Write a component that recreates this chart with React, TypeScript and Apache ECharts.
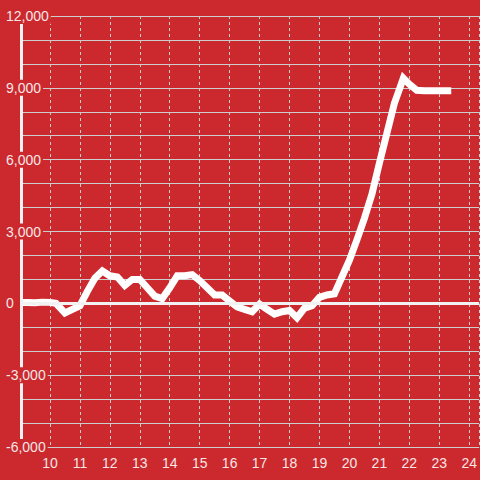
import React, { useEffect, useRef } from "react";
import * as echarts from "echarts";

const hours = [
  9.0, 9.25, 9.5, 9.75, 10.0, 10.2, 10.5, 10.75, 11.0, 11.25, 11.5, 11.75, 12.0, 12.25, 12.5, 12.75,
  13.0, 13.25, 13.5, 13.75, 14.0, 14.25, 14.5, 14.75, 15.0, 15.25, 15.5, 15.75, 16.0, 16.25, 16.5,
  16.75, 17.0, 17.25, 17.5, 17.75, 18.0, 18.25, 18.5, 18.75, 19.0, 19.25, 19.5, 19.75, 20.0, 20.25,
  20.5, 20.75, 21.0, 21.25, 21.5, 21.8, 22.0, 22.25, 22.5, 23.4,
];
const values = [
  30, 30, 20, 50, 40, 0, -400, -250, -100, 500, 1050, 1350, 1150, 1100, 750, 1000,
  1000, 650, 300, 200, 650, 1150, 1150, 1200, 950, 650, 350, 350, 100, -150, -250,
  -350, -30, -250, -450, -350, -300, -600, -200, -100, 250, 350, 400, 1100, 1800, 2650,
  3550, 4550, 5850, 7100, 8350, 9400, 9150, 8900, 8880, 8880,
];
const yTicks = { min: -6000, max: 12000, interval: 3000 };
const xTicks = { min: 9, max: 24 + 1 / 3, interval: 1, firstLabel: 10, lastLabel: 24 };

const BG = "#cc292e";
const TEXT = "#f5e6e6";
const GRID = "#cdcdcd";
const FONT = '"Liberation Sans", Arial, sans-serif';

export default function App() {
  const ref = useRef<HTMLDivElement>(null);
  useEffect(() => {
    if (!ref.current) return;
    const chart = echarts.init(ref.current, undefined, { renderer: "svg" });
    const yBase = {
      type: "value",
      min: yTicks.min,
      max: yTicks.max,
      interval: yTicks.interval,
      position: "left",
      offset: -1,
    };
    chart.setOption({
      animation: false,
      backgroundColor: BG,
      grid: { left: 20, right: 0, top: 16, bottom: 33, containLabel: false },
      xAxis: {
        type: "value",
        min: xTicks.min,
        max: xTicks.max,
        interval: xTicks.interval,
        axisLine: { show: false, onZero: false },
        axisTick: { show: false },
        axisLabel: {
          color: TEXT,
          fontSize: 14,
          fontFamily: FONT,
          margin: 9,
          showMinLabel: true,
          showMaxLabel: false,
          formatter: (v: number) => (v >= xTicks.firstLabel && v <= xTicks.lastLabel ? String(v) : ""),
        },
        splitLine: { show: true, lineStyle: { color: GRID, width: 1, type: [3, 3] } },
      },
      yAxis: [
        {
          ...yBase,
          z: 0,
          axisLine: { show: false },
          axisTick: { show: false },
          axisLabel: { show: false },
          splitLine: { show: true, lineStyle: { color: GRID, width: 1 } },
          minorTick: { show: false, splitNumber: 3 },
          minorSplitLine: { show: true, lineStyle: { color: GRID, width: 1 } },
        },
        {
          ...yBase,
          z: 10,
          axisLine: { show: true, onZero: false, lineStyle: { color: "#f2f2f2", width: 3 } },
          axisTick: { show: false },
          splitLine: { show: false },
          axisLabel: {
            color: TEXT,
            fontSize: 14,
            fontFamily: FONT,
            align: "left",
            margin: 17,
            backgroundColor: BG,
            padding: [1, 2, 1, 2],
            formatter: (v: number) => v.toLocaleString("en-US"),
          },
        },
      ],
      series: [
        {
          type: "line",
          yAxisIndex: 0,
          data: hours.map((h, i) => [h, values[i]]),
          showSymbol: false,
          symbol: "none",
          lineStyle: { color: "#ffffff", width: 7, join: "miter", cap: "butt" },
          markLine: {
            silent: true,
            symbol: "none",
            label: { show: false },
            lineStyle: { color: "#f2f2f2", width: 3, type: "solid" },
            data: [{ yAxis: 0 }],
          },
        },
      ],
    });
    return () => chart.dispose();
  }, []);
  return <div ref={ref} style={{ width: 480, height: 480, position: "absolute", left: 0, top: 0 }} />;
}
